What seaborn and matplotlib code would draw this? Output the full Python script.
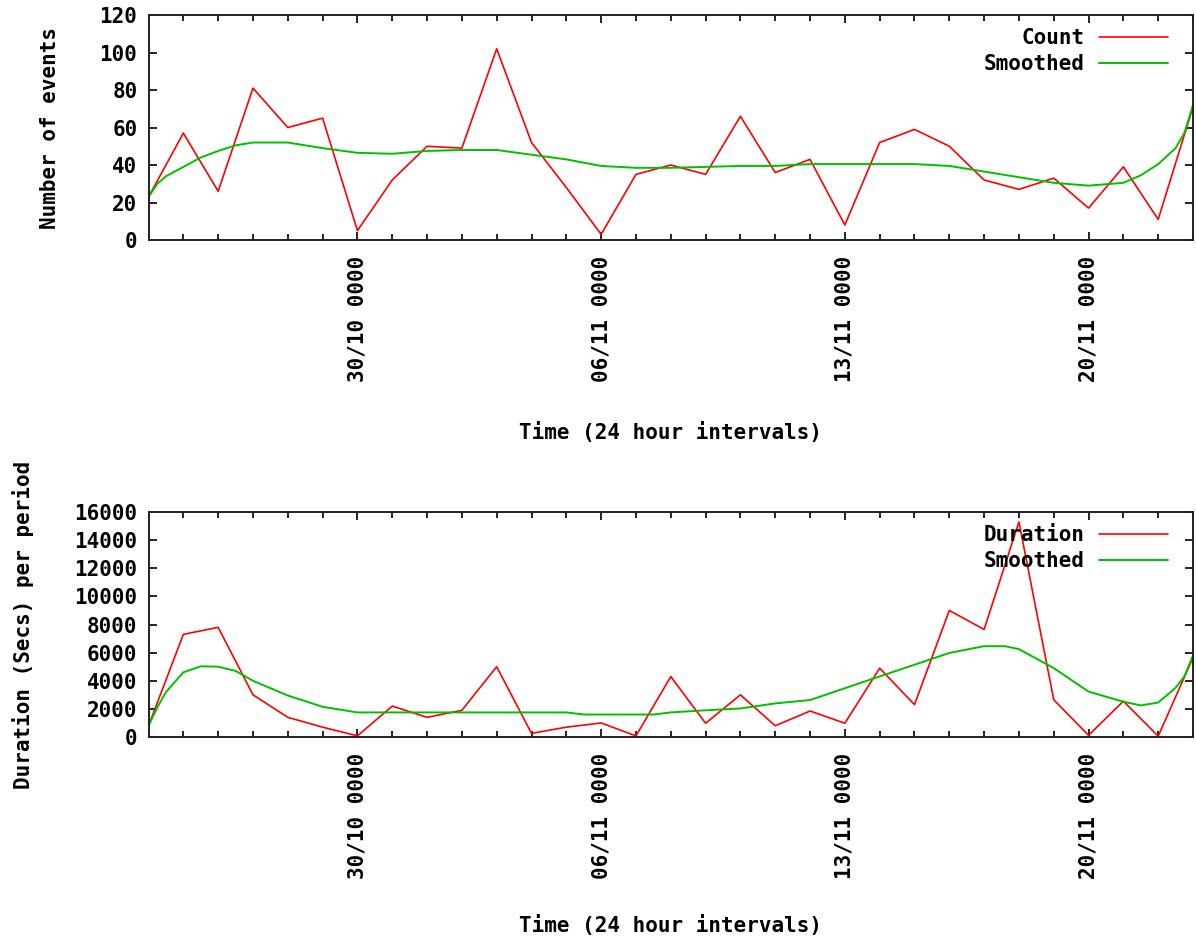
import pandas as pd
import matplotlib.pyplot as plt
import matplotlib.dates as mdates
import seaborn as sns

# daily buckets, 24/10 .. 23/11
start_day = "2009-10-24"
n_days = 31

# top panel: events per day
count_vals = [23, 57, 26, 81, 60, 65, 5, 32, 50, 49, 102, 52, 28, 3, 35, 40,
              35, 66, 36, 43, 8, 52, 59, 50, 32, 27, 33, 17, 39, 11, 71]
# smoothed curve, sampled at (fractional) day offsets
count_smooth_days = [0, 0.25, 0.5, 1, 1.5, 2, 2.5, 3, 4, 5, 6, 7, 8, 9, 10, 11, 12,
                     13, 14, 15, 16, 17, 18, 19, 20, 21, 22, 23, 24, 25, 26, 27,
                     28, 28.5, 29, 29.5, 29.75, 30]
count_smooth_vals = [23, 30, 34, 39, 44, 47.5, 50.5, 52, 52, 49, 46.5, 46, 47.5, 48,
                     48, 45.5, 43, 39.5, 38.5, 38.5, 39, 39.5, 39.5, 40.5, 40.5,
                     40.5, 40.5, 39.5, 36.5, 33.5, 30.5, 29, 30.5, 34.5, 40.5, 49,
                     57, 72]

# bottom panel: duration (secs) per day
duration_vals = [800, 7300, 7800, 3000, 1400, 700, 80, 2200, 1400, 1900, 5000, 260,
                 700, 1000, 80, 4300, 980, 3000, 800, 1850, 980, 4900, 2300, 9000,
                 7650, 15300, 2650, 120, 2550, 60, 5650]
duration_smooth_days = [0, 0.25, 0.5, 1, 1.5, 2, 2.5, 3, 4, 5, 6, 7, 8, 9, 10, 11, 12,
                        12.5, 14.5, 15, 16, 17, 18, 19, 20, 21, 22, 23, 24, 24.6, 25,
                        26, 27, 28, 28.5, 29, 29.5, 29.75, 30]
duration_smooth_vals = [800, 2100, 3200, 4600, 5030, 5000, 4700, 4000, 2950, 2150,
                        1750, 1750, 1750, 1750, 1750, 1750, 1750, 1600, 1600, 1750,
                        1900, 2030, 2390, 2630, 3470, 4310, 5140, 5980, 6460, 6460,
                        6250, 4900, 3230, 2510, 2250, 2450, 3500, 4300, 5800]

major_dates = ["2009-10-30", "2009-11-06", "2009-11-13", "2009-11-20"]
count_yticks = [0, 20, 40, 60, 80, 100, 120]
duration_yticks = [0, 2000, 4000, 6000, 8000, 10000, 12000, 14000, 16000]

RED = "#ff0000"
GREEN = "#00c000"

sns.set_style("ticks")
plt.rcParams["font.family"] = ["DejaVu Sans Mono"]
plt.rcParams["font.weight"] = "bold"
plt.rcParams["axes.labelweight"] = "bold"
plt.rcParams["text.color"] = "black"
plt.rcParams["axes.labelcolor"] = "black"
FS = 15

t0 = pd.Timestamp(start_day)
days = pd.date_range(t0, periods=n_days, freq="D")


def offsets_to_dates(offs):
    return [t0 + pd.Timedelta(days=d) for d in offs]


def style_axes(ax, yticks, ylabel, xlabel_y, ylabel_x):
    ax.set_xlim(days[0], days[-1])
    ax.set_ylim(yticks[0], yticks[-1])
    ax.set_yticks(yticks)
    ax.set_xticks(pd.to_datetime(major_dates))
    ax.xaxis.set_minor_locator(mdates.DayLocator())
    ax.xaxis.set_major_formatter(mdates.DateFormatter("%d/%m %H%M"))
    ax.tick_params(axis="both", which="both", direction="in",
                   top=True, right=True, colors="black", labelsize=FS)
    ax.tick_params(axis="x", which="major", length=6, width=1.2, pad=11,
                   labelrotation=90)
    ax.tick_params(axis="x", which="minor", length=4, width=1.2)
    ax.tick_params(axis="y", which="major", length=6, width=1.2, pad=8)
    for s in ax.spines.values():
        s.set_linewidth(1.4)
        s.set_color("#222222")
    ax.set_xlabel("Time (24 hour intervals)", fontsize=FS)
    ax.xaxis.set_label_coords(0.5, xlabel_y)
    ax.set_ylabel(ylabel, fontsize=FS)
    ax.yaxis.set_label_coords(ylabel_x, 0.5)


fig = plt.figure(figsize=(11.96, 9.39), dpi=100)
ax1 = fig.add_axes([0.1242, 0.7444, 0.8733, 0.2396])
ax2 = fig.add_axes([0.1242, 0.2151, 0.8733, 0.2396])

sns.lineplot(x=days, y=count_vals, color=RED, linewidth=1.2, label="Count", ax=ax1)
sns.lineplot(x=offsets_to_dates(count_smooth_days), y=count_smooth_vals,
             color=GREEN, linewidth=1.4, label="Smoothed", ax=ax1)

sns.lineplot(x=days, y=duration_vals, color=RED, linewidth=1.2, label="Duration", ax=ax2)
sns.lineplot(x=offsets_to_dates(duration_smooth_days), y=duration_smooth_vals,
             color=GREEN, linewidth=1.4, label="Smoothed", ax=ax2)

style_axes(ax1, count_yticks, "Number of events", -0.81, -0.085)
style_axes(ax2, duration_yticks, "Duration (Secs) per period", -0.79, -0.11)

for ax in (ax1, ax2):
    ax.legend(loc="upper right", bbox_to_anchor=(0.984, 0.98), frameon=False,
              markerfirst=False, fontsize=FS, handlelength=3.3, handletextpad=0.7,
              labelspacing=0.3, borderaxespad=0, borderpad=0.4)

fig.savefig("out.png", dpi=100)
